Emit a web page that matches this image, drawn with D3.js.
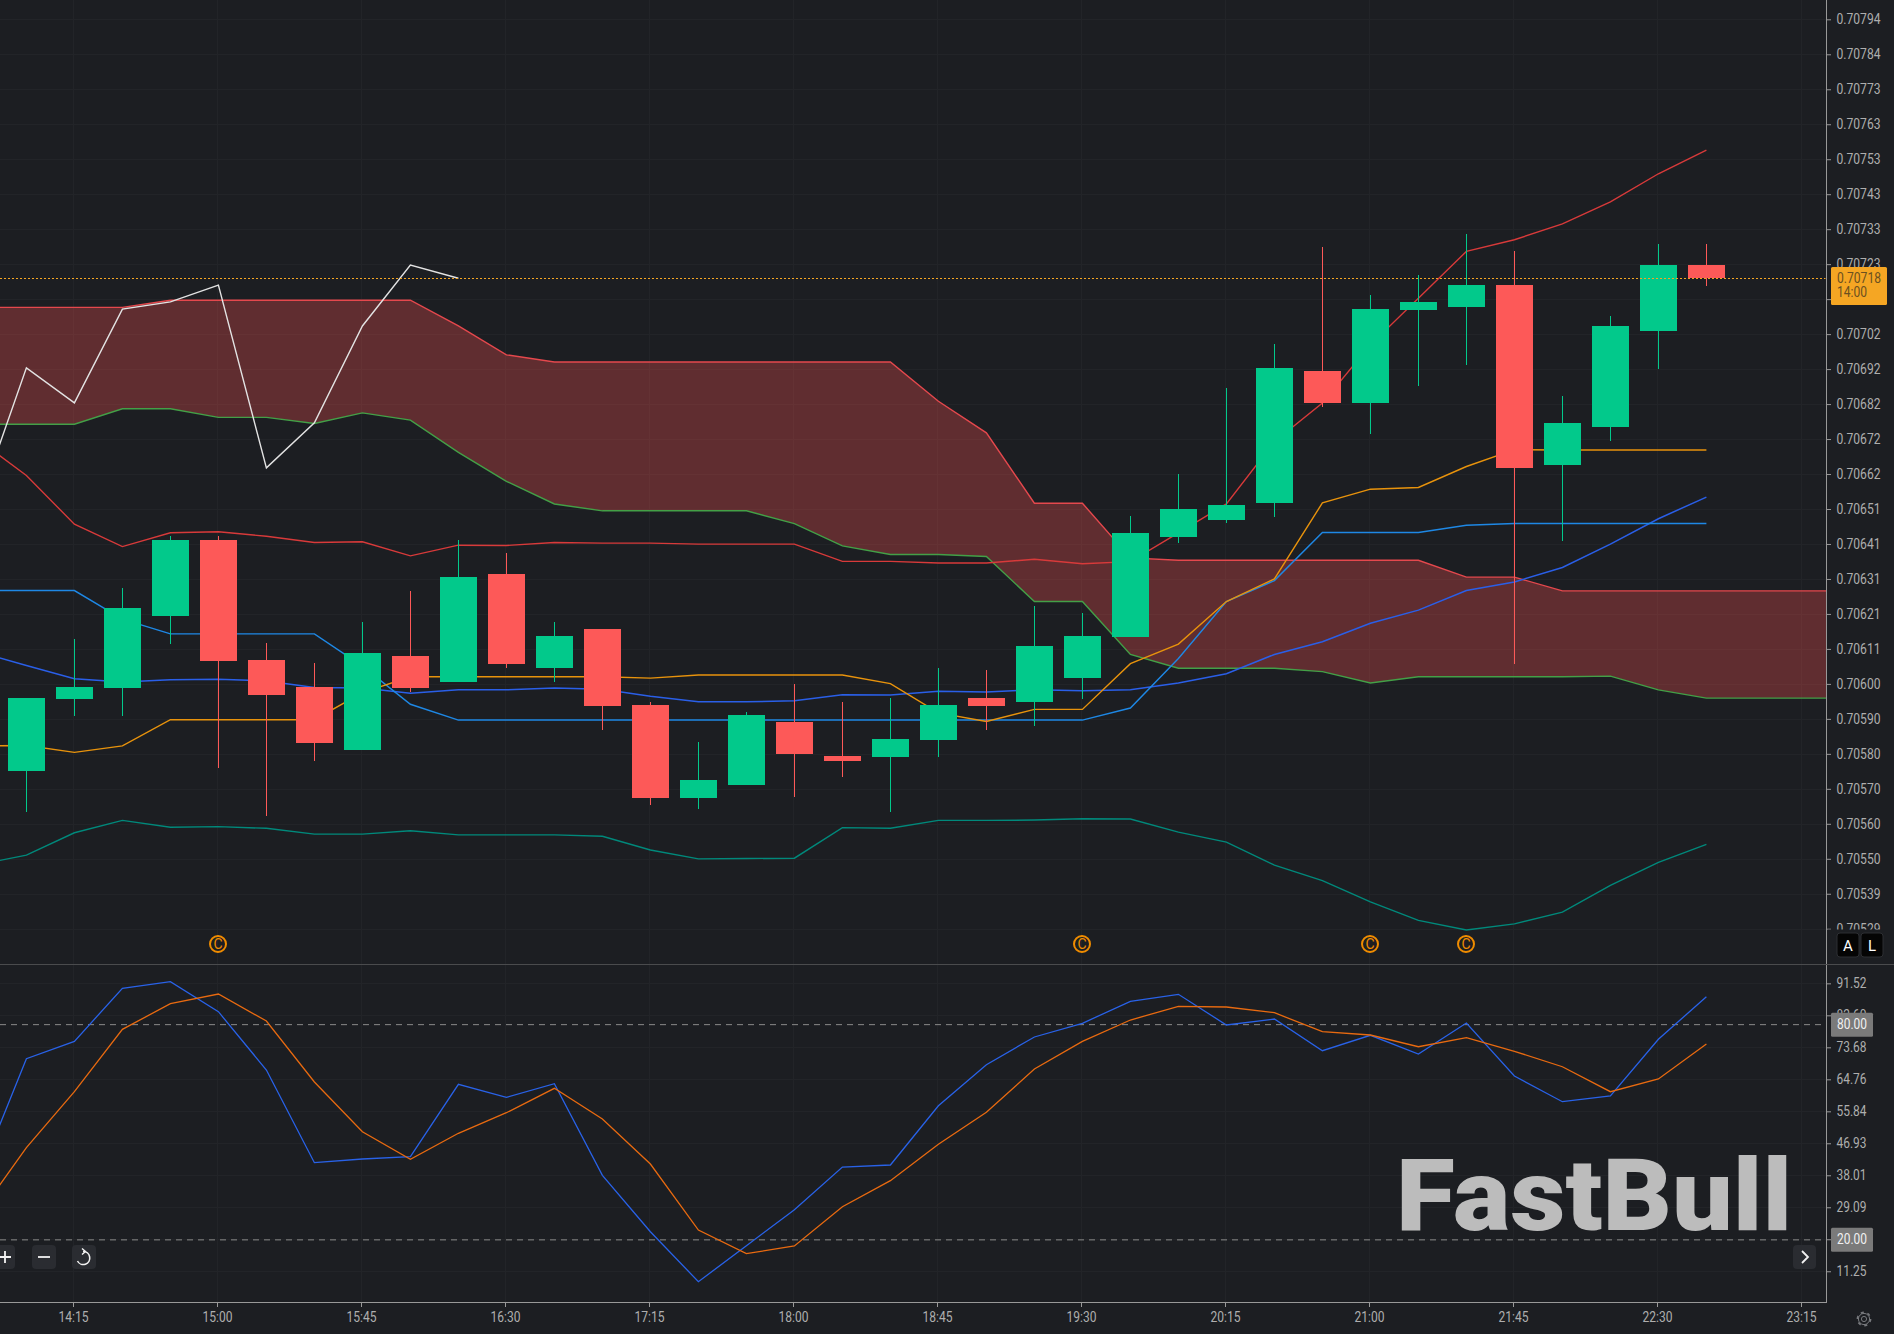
<!DOCTYPE html>
<html>
<head>
<meta charset="utf-8">
<title>FastBull 15m chart</title>
<script src="https://cdnjs.cloudflare.com/ajax/libs/d3/7.8.5/d3.min.js"></script>
<style>
  html, body { margin: 0; padding: 0; background: #1c1e22; overflow: hidden; }
  svg { display: block; }
  text { font-family: Roboto, "Liberation Sans", sans-serif; }
</style>
</head>
<body>
<svg id="chart" width="1894" height="1334"></svg>
<script>
// ---- Candles, 15 minute bars from 14:00 to 22:45 ----
const opens = [0.705751,0.705960,0.705992,0.706202,0.706423,0.706074,0.705995,0.705812,0.706086,0.706010,0.706324,0.706052,0.706164,0.705943,0.705672,0.705710,0.705893,0.705794,0.705792,0.705841,0.705963,0.705952,0.706021,0.706141,0.706432,0.706481,0.706531,0.706915,0.706822,0.707093,0.707101,0.707165,0.706641,0.706752,0.707031,0.707223];
const highs = [0.705963,0.706134,0.706283,0.706435,0.706435,0.706123,0.706064,0.706184,0.706274,0.706422,0.706385,0.706183,0.706164,0.705953,0.705834,0.705923,0.706003,0.705953,0.705963,0.706052,0.706045,0.706232,0.706212,0.706492,0.706614,0.706866,0.706993,0.707276,0.707135,0.707193,0.707313,0.707263,0.706843,0.707074,0.707284,0.707285];
const lows = [0.705632,0.705911,0.705911,0.706121,0.705760,0.705621,0.705781,0.705812,0.705981,0.706010,0.706052,0.706010,0.705871,0.705653,0.705641,0.705710,0.705674,0.705732,0.705632,0.705792,0.705871,0.705883,0.705960,0.706141,0.706413,0.706473,0.706491,0.706811,0.706732,0.706871,0.706932,0.706063,0.706420,0.706711,0.706921,0.707162];
const closes = [0.705963,0.705995,0.706225,0.706423,0.706071,0.705972,0.705832,0.706094,0.705992,0.706315,0.706062,0.706144,0.705940,0.705672,0.705725,0.705914,0.705800,0.705780,0.705844,0.705943,0.705940,0.706115,0.706144,0.706444,0.706513,0.706525,0.706924,0.706822,0.707095,0.707116,0.707165,0.706633,0.706764,0.707046,0.707223,0.707185];

// ---- Overlays; first value belongs to the 13:45 bar ----
const bandUpper = [0.706715,0.706611,0.706469,0.706404,0.706444,0.706447,0.706434,0.706416,0.706418,0.706377,0.706408,0.706407,0.706416,0.706414,0.706414,0.706411,0.706411,0.706411,0.706361,0.706361,0.706356,0.706356,0.706367,0.706354,0.706360,0.706444,0.706528,0.706709,0.706822,0.706991,0.707127,0.707263,0.707297,0.707343,0.707407,0.707489,0.707558];
const bandMiddle = [0.706097,0.706058,0.706019,0.706010,0.706016,0.706018,0.706013,0.705994,0.705992,0.705977,0.705987,0.705987,0.705992,0.705989,0.705968,0.705952,0.705952,0.705955,0.705973,0.705972,0.705983,0.705981,0.705987,0.705984,0.705987,0.706007,0.706034,0.706090,0.706127,0.706181,0.706219,0.706276,0.706301,0.706343,0.706411,0.706485,0.706548];
const bandLower = [0.705478,0.705506,0.705571,0.705607,0.705587,0.705589,0.705584,0.705567,0.705567,0.705577,0.705565,0.705565,0.705565,0.705561,0.705521,0.705495,0.705496,0.705497,0.705586,0.705584,0.705607,0.705607,0.705608,0.705612,0.705611,0.705573,0.705544,0.705477,0.705432,0.705370,0.705316,0.705288,0.705306,0.705340,0.705418,0.705485,0.705537];
const conversionLine = [0.705824,0.705825,0.705805,0.705824,0.705900,0.705900,0.705900,0.705900,0.705979,0.706025,0.706025,0.706025,0.706025,0.706025,0.706021,0.706030,0.706030,0.706030,0.706030,0.706005,0.705920,0.705895,0.705930,0.705930,0.706063,0.706120,0.706244,0.706310,0.706531,0.706571,0.706576,0.706637,0.706686,0.706685,0.706685,0.706685,0.706685];
const baseLine = [0.706276,0.706276,0.706276,0.706193,0.706150,0.706150,0.706150,0.706150,0.706056,0.705945,0.705899,0.705899,0.705899,0.705899,0.705899,0.705899,0.705899,0.705899,0.705899,0.705899,0.705899,0.705899,0.705899,0.705899,0.705934,0.706078,0.706244,0.706305,0.706445,0.706445,0.706445,0.706466,0.706471,0.706471,0.706471,0.706471,0.706471];

// ---- Cloud edges, projected past the last bar ----
const cloudTop = [0.707100,0.707100,0.707100,0.707100,0.707121,0.707121,0.707121,0.707121,0.707121,0.707121,0.707046,0.706962,0.706941,0.706941,0.706941,0.706941,0.706941,0.706941,0.706941,0.706941,0.706827,0.706735,0.706530,0.706530,0.706371,0.706364,0.706364,0.706364,0.706364,0.706364,0.706364,0.706315,0.706315,0.706275,0.706275,0.706275,0.706275,0.706275,0.706275,0.706275];
const cloudBottom = [0.706760,0.706760,0.706760,0.706805,0.706805,0.706780,0.706780,0.706762,0.706793,0.706772,0.706678,0.706594,0.706528,0.706508,0.706508,0.706508,0.706508,0.706471,0.706406,0.706381,0.706381,0.706375,0.706244,0.706244,0.706090,0.706050,0.706050,0.706050,0.706040,0.706007,0.706025,0.706025,0.706025,0.706025,0.706027,0.705987,0.705963,0.705963,0.705963,0.705963];

// ---- Stochastic pane; first value belongs to the 13:45 bar ----
const stochK = [37.25,70.51,75.35,90.13,91.97,83.61,67.36,41.52,42.54,43.19,63.37,59.74,63.54,38.00,22.28,8.34,18.37,28.41,40.31,40.87,57.40,68.84,76.56,80.37,86.51,88.46,79.90,81.57,72.74,77.03,71.82,80.46,65.68,58.52,60.11,75.92,87.79];
const stochD = [26.93,45.70,61.31,78.70,85.84,88.54,81.02,64.01,50.16,42.46,49.71,55.45,62.25,53.69,41.15,22.75,16.15,18.29,29.25,36.50,46.64,55.56,67.63,75.35,81.29,85.11,84.92,83.33,78.03,77.11,73.85,76.36,72.57,68.27,61.31,64.85,74.60];

// ---- Axis ticks ----
const priceTicks = [0.7079385,0.7078367,0.7077349,0.7076331,0.7075313,0.7074295,0.7073277,0.7072259,0.7071241,0.7070223,0.7069205,0.7068187,0.7067169,0.7066151,0.7065133,0.7064115,0.7063097,0.7062079,0.7061061,0.7060043,0.7059025,0.7058007,0.7056989,0.7055971,0.7054953,0.7053935,0.7052917];
const stochTicks = [91.52,82.60,73.68,64.76,55.84,46.93,38.01,29.09,20.17,11.25];
const timeTickBars = [1,4,7,10,13,16,19,22,25,28,31,34,37];
const timeTickLabels = ["14:15","15:00","15:45","16:30","17:15","18:00","18:45","19:30","20:15","21:00","21:45","22:30","23:15"];
const dividendBars = [4,22,28,30];
const lastPrice = 0.707185;
const stochLevels = [80, 20];

const W = 1894, H = 1334;
const axisX = 1826.5, paneBottom = 964, stochBottom = 1302;
const colors = {
  bg: "#1c1e22", grid: "#222428", up: "#02c98b", down: "#fd5958", axis: "#999999",
  label: "#aeaeae", amber: "#f5a623", sep: "#4a4b4d"
};

const x = d3.scaleLinear().domain([0, 37]).range([26.4, 1802.4]);
const y = d3.scaleLinear().domain([0.7079947, 0.7079947 - paneBottom * 2.9104e-6]).range([0, paneBottom]);
const yStoch = d3.scaleLinear().domain([96.63, 2.68]).range([965, stochBottom]);

const svg = d3.select("#chart");
svg.append("rect").attr("width", W).attr("height", H).attr("fill", colors.bg);

const defs = svg.append("defs");
defs.append("clipPath").attr("id", "clipPrice").append("rect").attr("width", axisX).attr("height", paneBottom);
defs.append("clipPath").attr("id", "clipStoch").append("rect").attr("y", 965).attr("width", axisX).attr("height", stochBottom - 965);

// Grid
const grid = svg.append("g").attr("shape-rendering", "crispEdges").attr("stroke", colors.grid);
grid.selectAll("line.v").data(timeTickBars).join("line").attr("class", "v")
  .attr("x1", d => Math.floor(x(d)) - 0.5).attr("x2", d => Math.floor(x(d)) - 0.5)
  .attr("y1", 0).attr("y2", stochBottom);
grid.selectAll("line.p").data(priceTicks).join("line").attr("class", "p")
  .attr("x1", 0).attr("x2", axisX).attr("y1", d => Math.round(y(d)) + 0.5).attr("y2", d => Math.round(y(d)) + 0.5);
grid.selectAll("line.s").data(stochTicks).join("line").attr("class", "s")
  .attr("x1", 0).attr("x2", axisX).attr("y1", d => Math.round(yStoch(d)) + 0.5).attr("y2", d => Math.round(yStoch(d)) + 0.5);

// Price pane
const price = svg.append("g").attr("clip-path", "url(#clipPrice)");
const area = d3.area().x((d, i) => x(i - 1)).y0((d, i) => y(cloudBottom[i])).y1(d => y(d));
price.append("path").attr("d", area(cloudTop)).attr("fill", "rgb(255,82,82)").attr("fill-opacity", 0.3);

const lineAt = scale => d3.line().x((d, i) => x(i - 1)).y(d => scale(d));
const overlays = [
  [cloudTop, "#e5484d", 1.4],
  [cloudBottom, "#43a047", 1.4],
  [bandUpper, "#d83a3a", 1.4],
  [bandLower, "#00897b", 1.4],
  [bandMiddle, "#2a5fe8", 1.5],
  [baseLine, "#1e88e5", 1.4],
  [conversionLine, "#e8930c", 1.4]
];
price.selectAll("path.overlay").data(overlays).join("path").attr("class", "overlay")
  .attr("d", d => lineAt(y)(d[0]))
  .attr("fill", "none").attr("stroke", d => d[1]).attr("stroke-width", d => d[2]).attr("stroke-linejoin", "miter");

// Lagging span: closes shifted back 26 bars
const lagging = d3.line().x((d, i) => x(i + 25 - 26)).y(d => y(d));
price.append("path").attr("d", lagging(closes.slice(25)))
  .attr("fill", "none").attr("stroke", "#e3e3e3").attr("stroke-width", 1.4);

const bars = d3.range(closes.length);
const candles = price.append("g").attr("shape-rendering", "crispEdges");
candles.selectAll("rect.wick").data(bars).join("rect").attr("class", "wick")
  .attr("x", i => Math.floor(x(i))).attr("width", 1)
  .attr("y", i => y(highs[i])).attr("height", i => y(lows[i]) - y(highs[i]))
  .attr("fill", i => closes[i] >= opens[i] ? colors.up : colors.down);
candles.selectAll("rect.body").data(bars).join("rect").attr("class", "body")
  .attr("x", i => Math.floor(x(i)) - 18).attr("width", 37)
  .attr("y", i => y(Math.max(opens[i], closes[i])))
  .attr("height", i => Math.max(1, Math.abs(y(opens[i]) - y(closes[i]))))
  .attr("fill", i => closes[i] >= opens[i] ? colors.up : colors.down);

// Dividend markers
const marks = svg.append("g");
marks.selectAll("circle").data(dividendBars).join("circle")
  .attr("cx", i => x(i) - 0.4).attr("cy", 944).attr("r", 8)
  .attr("fill", "none").attr("stroke", "#ef8c00").attr("stroke-width", 2);
marks.selectAll("text").data(dividendBars).join("text")
  .attr("x", i => x(i) - 0.4).attr("y", 949).attr("text-anchor", "middle")
  .attr("font-size", 14).attr("fill", "#ef8c00").text("C");

// Stochastic pane
const stoch = svg.append("g").attr("clip-path", "url(#clipStoch)");
stoch.selectAll("line.level").data(stochLevels).join("line").attr("class", "level")
  .attr("x1", 0).attr("x2", axisX).attr("y1", d => yStoch(d)).attr("y2", d => yStoch(d))
  .attr("stroke", "#8a8a8a").attr("stroke-width", 1).attr("stroke-dasharray", "6,5");
stoch.append("path").attr("d", lineAt(yStoch)(stochK)).attr("fill", "none").attr("stroke", "#2962e8").attr("stroke-width", 1.3);
stoch.append("path").attr("d", lineAt(yStoch)(stochD)).attr("fill", "none").attr("stroke", "#e86a10").attr("stroke-width", 1.3);

// Last price line, snapped to a whole pixel row so the dots stay sharp
const lastY = Math.round(y(lastPrice)) + 0.5;
svg.append("line").attr("x1", 0).attr("x2", axisX - 1).attr("y1", lastY).attr("y2", lastY)
  .attr("stroke", colors.amber).attr("stroke-width", 1).attr("stroke-dasharray", "2,2");

// Axes
function styleAxis(g, labelWidth) {
  g.select(".domain").remove();
  g.selectAll("line").attr("stroke", colors.axis);
  g.selectAll("text").attr("fill", colors.label).attr("font-size", 14)
    .attr("font-family", "Roboto, sans-serif")
    .attr("textLength", labelWidth).attr("lengthAdjust", "spacingAndGlyphs");
}
const priceAxis = svg.append("g").attr("transform", `translate(${axisX - 0.5},0)`)
  .call(d3.axisRight(y).tickValues(priceTicks).tickFormat(d3.format(".5f")).tickSize(5).tickPadding(5.5));
styleAxis(priceAxis, 44);
const stochAxis = svg.append("g").attr("transform", `translate(${axisX - 0.5},0)`)
  .call(d3.axisRight(yStoch).tickValues(stochTicks).tickFormat(d3.format(".2f")).tickSize(5).tickPadding(5.5));
styleAxis(stochAxis, 30);
const timeAxis = svg.append("g").attr("transform", `translate(-1.4,${stochBottom})`)
  .call(d3.axisBottom(x).tickValues(timeTickBars).tickFormat((d, i) => timeTickLabels[i]).tickSize(5).tickPadding(5));
styleAxis(timeAxis, 30);

// Cover the clipped bottom price label behind the toggle strip
svg.append("rect").attr("x", axisX + 1).attr("y", 929.5).attr("width", W - axisX).attr("height", 34).attr("fill", colors.bg);

const rule = svg.append("g").attr("stroke-width", 1).attr("shape-rendering", "crispEdges");
rule.append("line").attr("x1", axisX).attr("x2", axisX).attr("y1", 0).attr("y2", stochBottom + 1).attr("stroke", colors.axis);
rule.append("line").attr("x1", 0).attr("x2", axisX).attr("y1", stochBottom + 0.5).attr("y2", stochBottom + 0.5).attr("stroke", colors.axis);
rule.append("line").attr("x1", 0).attr("x2", W).attr("y1", paneBottom + 0.5).attr("y2", paneBottom + 0.5).attr("stroke", colors.sep);

// Last price tag
const tag = svg.append("g");
tag.append("rect").attr("x", 1831).attr("y", 267).attr("width", 56).attr("height", 38).attr("rx", 1.5).attr("fill", colors.amber);
tag.selectAll("text").data([[lastPrice.toFixed(5), 283, 44], ["14:00", 297.3, 30]]).join("text")
  .attr("x", 1837).attr("y", d => d[1]).attr("fill", "#6b5020").attr("font-size", 14)
  .attr("textLength", d => d[2]).attr("lengthAdjust", "spacingAndGlyphs").text(d => d[0]);

// Stochastic level tags
const levelTag = svg.append("g").selectAll("g").data(stochLevels).join("g");
levelTag.append("rect").attr("x", 1831).attr("width", 42).attr("height", 24).attr("rx", 1.5)
  .attr("y", d => yStoch(d) - 12).attr("fill", "#7a7a7a");
levelTag.append("text").attr("x", 1837).attr("y", d => yStoch(d) + 4).attr("fill", "#f0f0f0")
  .attr("font-size", 14).attr("textLength", 30).attr("lengthAdjust", "spacingAndGlyphs")
  .text(d => d.toFixed(2));

// Scale-mode toggles
const toggles = svg.append("g").selectAll("g").data([["A", 1837], ["L", 1861]]).join("g");
toggles.append("rect").attr("x", d => d[1]).attr("y", 933).attr("width", 22).attr("height", 24).attr("rx", 3)
  .attr("fill", "#050505").attr("stroke", "#2c2e32");
toggles.append("text").attr("x", d => d[1] + 11).attr("y", 950.5).attr("text-anchor", "middle")
  .attr("font-size", 15).attr("fill", "#ffffff").text(d => d[0]);

// Zoom controls
const buttons = svg.append("g").attr("fill", "#2a2c31");
[[-9, 24], [32, 24], [72, 24], [1793, 23]].forEach(b =>
  buttons.append("rect").attr("x", b[0]).attr("y", 1245).attr("width", b[1]).attr("height", 24).attr("rx", 4));
const icons = svg.append("g").attr("fill", "none").attr("stroke", "#f2f2f2").attr("stroke-width", 1.8);
icons.append("path").attr("d", "M5 1251V1263M0 1257H11");
icons.append("path").attr("d", "M38 1257H50");
icons.append("path").attr("d", "M83 1251.5A6.5 6.5 0 1 1 77.5 1261").attr("stroke-width", 1.6);
icons.append("path").attr("d", "M82 1248.5L85.5 1251.5L82 1254.5").attr("stroke-width", 1.4);
icons.append("path").attr("d", "M1802 1251L1808 1257L1802 1263");

// Settings glyph
const gear = svg.append("g").attr("fill", "none").attr("stroke", "#77797d");
gear.append("circle").attr("cx", 1864).attr("cy", 1319).attr("r", 2.6).attr("stroke-width", 1);
gear.append("circle").attr("cx", 1864).attr("cy", 1319).attr("r", 5.6).attr("stroke-width", 1);
gear.append("circle").attr("cx", 1864).attr("cy", 1319).attr("r", 6.6).attr("stroke-width", 1.6).attr("stroke-dasharray", "3.1,3.8");

// Brand mark
svg.append("text").attr("x", 1396).attr("y", 1230).attr("fill", "#bcbcbc")
  .attr("font-family", "Inter, Roboto, sans-serif").attr("font-weight", 900).attr("font-size", 101)
  .attr("textLength", 396).attr("lengthAdjust", "spacingAndGlyphs").text("FastBull");
</script>
</body>
</html>
